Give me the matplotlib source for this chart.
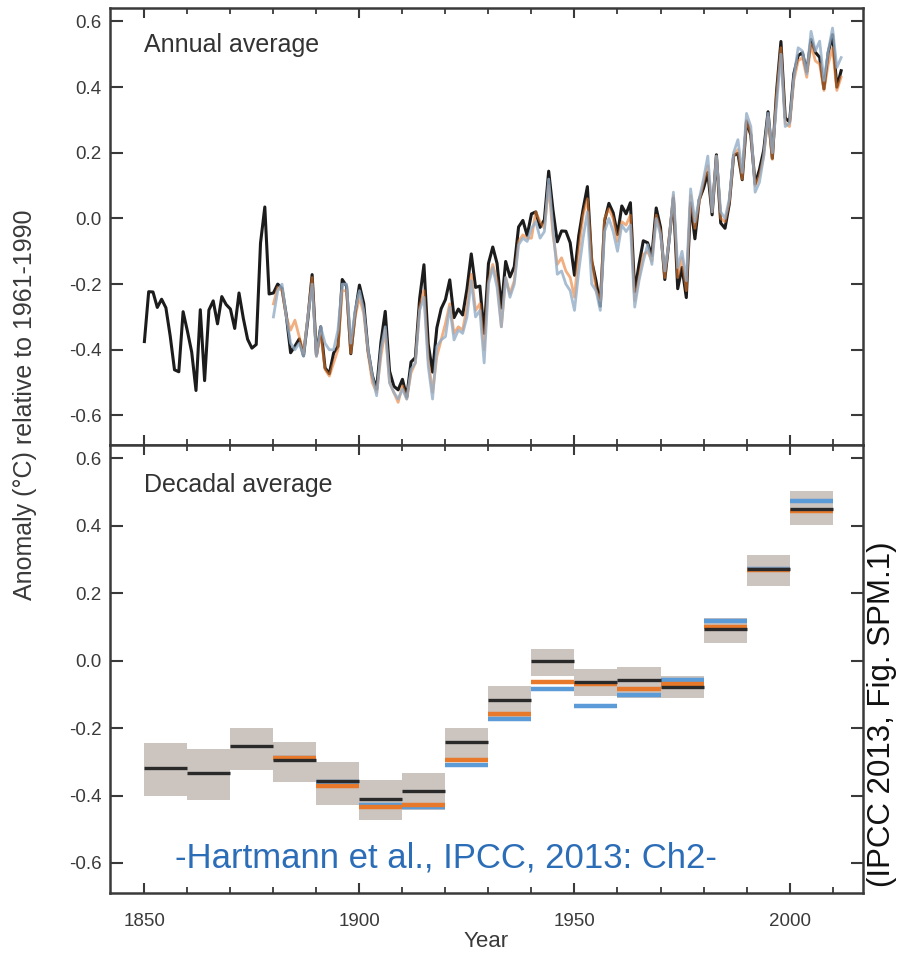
"""
Observed global mean surface temperature anomalies 1850-2012:
annual values (top) and decadal means with uncertainty (bottom),
for HadCRUT4 (black), NOAA MLOST (orange) and NASA GISS (blue).
"""

import matplotlib
matplotlib.use('Agg')
import matplotlib.pyplot as plt
from matplotlib import font_manager
from matplotlib.patches import Rectangle
from matplotlib.ticker import MultipleLocator

plt.rcParams['font.family'] = ['Liberation Sans', 'DejaVu Sans']

# ---------------------------------------------------------------- data
anos_had = list(range(1850, 2013))
had_anual = [
    -0.375, -0.223, -0.224, -0.271, -0.246, -0.272, -0.358, -0.461, -0.467, -0.284,
    -0.343, -0.407, -0.524, -0.278, -0.494, -0.279, -0.251, -0.321, -0.238, -0.262,
    -0.276, -0.335, -0.227, -0.304, -0.368, -0.395, -0.384, -0.075, 0.035, -0.230,
    -0.227, -0.200, -0.213, -0.296, -0.409, -0.389, -0.367, -0.418, -0.307, -0.171,
    -0.416, -0.330, -0.455, -0.473, -0.410, -0.390, -0.186, -0.206, -0.412, -0.289,
    -0.203, -0.259, -0.402, -0.479, -0.520, -0.377, -0.283, -0.465, -0.511, -0.522,
    -0.490, -0.544, -0.437, -0.424, -0.244, -0.141, -0.383, -0.468, -0.333, -0.275,
    -0.247, -0.187, -0.302, -0.276, -0.294, -0.215, -0.108, -0.210, -0.206, -0.350,
    -0.137, -0.087, -0.137, -0.273, -0.131, -0.178, -0.147, -0.026, -0.006, -0.052,
    0.014, 0.020, -0.027, -0.004, 0.144, 0.025, -0.071, -0.038, -0.039, -0.074,
    -0.173, -0.052, 0.028, 0.097, -0.129, -0.190, -0.267, -0.007, 0.046, 0.017,
    -0.049, 0.038, 0.014, 0.048, -0.223, -0.140, -0.068, -0.074, -0.113, 0.032,
    -0.027, -0.186, -0.065, 0.062, -0.214, -0.149, -0.241, 0.047, -0.062, 0.057,
    0.092, 0.140, 0.011, 0.194, -0.014, -0.030, 0.045, 0.192, 0.198, 0.118,
    0.296, 0.254, 0.105, 0.148, 0.208, 0.325, 0.183, 0.390, 0.539, 0.306,
    0.294, 0.441, 0.496, 0.505, 0.447, 0.545, 0.506, 0.491, 0.395, 0.506,
    0.560, 0.400, 0.450,
]

anos_outros = list(range(1880, 2013))
noaa_anual = [
    -0.26, -0.21, -0.22, -0.30, -0.34, -0.31, -0.36, -0.41, -0.30, -0.18,
    -0.42, -0.35, -0.46, -0.48, -0.44, -0.40, -0.22, -0.22, -0.41, -0.30,
    -0.24, -0.29, -0.41, -0.50, -0.53, -0.42, -0.34, -0.50, -0.53, -0.56,
    -0.51, -0.55, -0.47, -0.44, -0.27, -0.22, -0.43, -0.53, -0.42, -0.37,
    -0.32, -0.26, -0.35, -0.33, -0.34, -0.27, -0.17, -0.28, -0.26, -0.40,
    -0.19, -0.14, -0.19, -0.33, -0.18, -0.23, -0.19, -0.07, -0.05, -0.06,
    -0.06, 0.02, -0.01, -0.03, 0.10, -0.05, -0.14, -0.12, -0.16, -0.18,
    -0.24, -0.10, 0.01, 0.06, -0.12, -0.22, -0.25, 0.00, 0.03, 0.00,
    -0.07, -0.01, -0.02, 0.01, -0.25, -0.18, -0.11, -0.10, -0.13, 0.01,
    -0.04, -0.18, -0.06, 0.07, -0.18, -0.12, -0.22, 0.07, -0.03, 0.05,
    0.11, 0.16, 0.02, 0.19, 0.00, -0.01, 0.05, 0.19, 0.21, 0.12,
    0.30, 0.26, 0.10, 0.13, 0.19, 0.31, 0.18, 0.38, 0.52, 0.29,
    0.28, 0.42, 0.48, 0.49, 0.43, 0.53, 0.48, 0.47, 0.39, 0.47,
    0.52, 0.39, 0.43,
]
giss_anual = [
    -0.30, -0.22, -0.20, -0.30, -0.38, -0.40, -0.38, -0.42, -0.30, -0.20,
    -0.42, -0.33, -0.38, -0.40, -0.40, -0.34, -0.20, -0.20, -0.38, -0.28,
    -0.22, -0.28, -0.40, -0.48, -0.54, -0.40, -0.33, -0.50, -0.53, -0.55,
    -0.52, -0.55, -0.46, -0.44, -0.28, -0.24, -0.45, -0.55, -0.39, -0.37,
    -0.36, -0.27, -0.37, -0.34, -0.35, -0.30, -0.19, -0.30, -0.28, -0.44,
    -0.20, -0.15, -0.21, -0.33, -0.18, -0.24, -0.20, -0.08, -0.06, -0.07,
    -0.03, -0.01, -0.06, -0.04, 0.12, -0.03, -0.17, -0.16, -0.20, -0.22,
    -0.28, -0.16, -0.06, 0.02, -0.20, -0.22, -0.28, -0.04, 0.00, -0.04,
    -0.10, -0.02, -0.04, -0.02, -0.27, -0.19, -0.13, -0.08, -0.14, 0.00,
    -0.05, -0.16, -0.07, 0.08, -0.15, -0.10, -0.19, 0.09, -0.01, 0.06,
    0.12, 0.19, 0.02, 0.19, 0.02, 0.00, 0.06, 0.20, 0.24, 0.14,
    0.32, 0.28, 0.08, 0.11, 0.19, 0.32, 0.20, 0.35, 0.50, 0.28,
    0.29, 0.43, 0.52, 0.51, 0.44, 0.57, 0.51, 0.54, 0.42, 0.51,
    0.58, 0.46, 0.49,
]

# decadal means (decade start year)
decadas_had = list(range(1850, 2010, 10))
had_decada = [-0.318, -0.333, -0.254, -0.295, -0.357, -0.410, -0.385, -0.241,
              -0.117, -0.001, -0.063, -0.056, -0.077, 0.093, 0.271, 0.451]
had_inferior = [-0.402, -0.412, -0.323, -0.361, -0.427, -0.471, -0.444, -0.288,
                -0.179, -0.046, -0.105, -0.110, -0.110, 0.053, 0.222, 0.402]
had_superior = [-0.244, -0.263, -0.199, -0.242, -0.301, -0.355, -0.333, -0.199,
                -0.075, 0.036, -0.024, -0.018, -0.046, 0.128, 0.313, 0.504]

decadas_outros = list(range(1880, 2010, 10))
noaa_decada = [-0.290, -0.372, -0.435, -0.427, -0.295, -0.159, -0.063, -0.070,
               -0.085, -0.070, 0.101, 0.268, 0.444]
giss_decada = [-0.288, -0.360, -0.428, -0.435, -0.308, -0.172, -0.085, -0.135,
               -0.103, -0.056, 0.118, 0.272, 0.474]

# ---------------------------------------------------------------- style
COR_HAD = '#1c1c1c'
COR_NOAA = '#e8792b'
COR_GISS = '#5b9bd8'
COR_CAIXA = '#c9c1bc'
COR_TEXTO = '#333333'
COR_EIXO = '#3a3a3a'


def formatar_eixo(ax):
    ax.set_xlim(1842, 2017)
    ax.set_ylim(-0.69, 0.64)
    ax.yaxis.set_major_locator(MultipleLocator(0.2))
    ax.xaxis.set_major_locator(MultipleLocator(50))
    ax.xaxis.set_minor_locator(MultipleLocator(10))
    ax.tick_params(axis='y', which='major', direction='in', length=9, width=1.5,
                   left=True, right=True, labelsize=13.5, colors=COR_EIXO, pad=6)
    ax.tick_params(axis='x', which='major', direction='in', length=7, width=1.5,
                   top=True, bottom=True, labelsize=13.5, colors=COR_EIXO, pad=14)
    ax.tick_params(axis='x', which='minor', direction='in', length=4, width=1.3,
                   top=True, bottom=True, colors=COR_EIXO)
    ax.yaxis.set_major_formatter(plt.FuncFormatter(lambda v, p: f'{v:.1f}'))
    for lado in ax.spines.values():
        lado.set_linewidth(1.8)
        lado.set_color(COR_EIXO)


fig = plt.figure(figsize=(9, 9.58), dpi=100)
ax_anual = fig.add_axes([0.1222, 0.5355, 0.8363, 0.4558])
ax_dec = fig.add_axes([0.1222, 0.0675, 0.8363, 0.468])

# annual series: blue drawn on top, semi-transparent, so overlapping
# curves blend into the grey-blue seen where the datasets agree
ax_anual.plot(anos_had, had_anual, color=COR_HAD, lw=2.2, zorder=2)
ax_anual.plot(anos_outros, noaa_anual, color=COR_NOAA, lw=2.0, alpha=0.6, zorder=3)
ax_anual.plot(anos_outros, giss_anual, color='#93adc6', lw=2.0, alpha=0.8, zorder=4)

# decadal boxes and lines
for inicio, lo, hi in zip(decadas_had, had_inferior, had_superior):
    ax_dec.add_patch(Rectangle((inicio, lo), 10, hi - lo, facecolor=COR_CAIXA,
                               edgecolor='none', alpha=0.95, zorder=1))
ax_dec.hlines(giss_decada, decadas_outros, [d + 10 for d in decadas_outros],
              color=COR_GISS, lw=3.2, zorder=2)
ax_dec.hlines(noaa_decada, decadas_outros, [d + 10 for d in decadas_outros],
              color=COR_NOAA, lw=3.2, zorder=3)
ax_dec.hlines(had_decada, decadas_had, [d + 10 for d in decadas_had],
              color='#2a2a2a', lw=2.4, zorder=4)

formatar_eixo(ax_anual)
formatar_eixo(ax_dec)
ax_anual.tick_params(axis='x', labelbottom=False)

ax_anual.text(0.045, 0.915, 'Annual average', transform=ax_anual.transAxes,
              fontsize=18, color=COR_TEXTO, va='center', ha='left')
ax_dec.text(0.045, 0.91, 'Decadal average', transform=ax_dec.transAxes,
            fontsize=18, color=COR_TEXTO, va='center', ha='left')

ax_dec.set_xlabel('Year', fontsize=16, color=COR_EIXO, labelpad=1)
fig.text(0.028, 0.578, 'Anomaly (°C) relative to 1961-1990', rotation=90,
         fontsize=18, color=COR_EIXO, ha='center', va='center')

# source credits
nomes = {f.name for f in font_manager.fontManager.ttflist}
if 'Liberation Sans Narrow' in nomes:
    fonte_credito, tam_credito = 'Liberation Sans Narrow', 29
else:
    fonte_credito, tam_credito = 'Liberation Sans', 25
fig.text(0.194, 0.104, '-Hartmann et al., IPCC, 2013: Ch2-', fontsize=tam_credito,
         family=fonte_credito, color='#2c6db8', ha='left', va='center')
fig.text(0.98, 0.254, '(IPCC 2013, Fig. SPM.1)', rotation=90, fontsize=22.5,
         color='#111111', ha='center', va='center')

fig.savefig('out.png', dpi=100, facecolor='white')
